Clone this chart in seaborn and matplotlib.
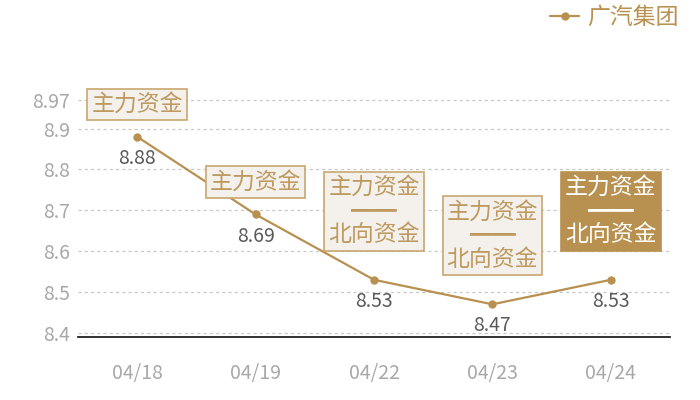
import matplotlib
matplotlib.use("Agg")
import matplotlib.pyplot as plt
import seaborn as sns
import pandas as pd

dates = ["04/18", "04/19", "04/22", "04/23", "04/24"]
values = [8.88, 8.69, 8.53, 8.47, 8.53]
tags = ["主力资金", "主力资金", "主力资金\n━━\n北向资金", "主力资金\n━━\n北向资金", "主力资金\n━━\n北向资金"]
highlight = [False, False, False, False, True]
yticks = [8.4, 8.5, 8.6, 8.7, 8.8, 8.9, 8.97]
series_name = "广汽集团"

GOLD = "#B8904F"
BOX_EC = "#C9A76F"
BOX_FC = "#F4F1EC"
TXT = "#BE9A60"

sns.set_theme(style="white")
plt.rcParams["font.family"] = ["Noto Sans CJK SC", "DejaVu Sans"]

df = pd.DataFrame({"date": dates, "value": values})

fig = plt.figure(figsize=(7, 4), dpi=100)
ax = fig.add_axes([78/700, 63/400, 592/700, 237/400])

sns.lineplot(data=df, x="date", y="value", sort=False, ax=ax, color=GOLD,
             linewidth=1.6, marker="o", markersize=6, markeredgewidth=0,
             label=series_name, legend=False)

ax.set_xlim(-0.5, len(dates) - 0.5)
ax.set_ylim(8.39, 8.97)
ax.set_yticks(yticks)
ax.set_yticklabels([f"{v:g}" for v in yticks])
ax.set_xlabel("")
ax.set_ylabel("")
ax.grid(axis="y", color="#C8C8C8", linestyle=(0, (2.5, 2.5)), linewidth=0.9)
ax.grid(axis="x", visible=False)
for s in ["top", "right", "left"]:
    ax.spines[s].set_visible(False)
ax.spines["bottom"].set_color("#222222")
ax.spines["bottom"].set_linewidth(1.3)
ax.tick_params(axis="both", length=0, colors="#A8A8A8", labelsize=14)
ax.tick_params(axis="x", pad=19)
ax.tick_params(axis="y", pad=6)
for g in ax.get_ygridlines():
    g.set_clip_on(False)

for i, (d, v) in enumerate(zip(dates, values)):
    ax.annotate(f"{v:.2f}", xy=(i, v), xytext=(0, -8), textcoords="offset points",
                ha="center", va="top", fontsize=14, color="#5A5A5A")
    nlines = tags[i].count("\n") + 1
    off = 15 if nlines == 1 else 24
    hl = highlight[i]
    ax.annotate(tags[i], xy=(i, v), xytext=(0, off), textcoords="offset points",
                ha="center", va="bottom", fontsize=16.5, linespacing=1.04,
                multialignment="center",
                color="white" if hl else TXT,
                bbox=dict(boxstyle="square,pad=0.18",
                          fc=GOLD if hl else BOX_FC,
                          ec=GOLD if hl else BOX_EC, lw=1.2),
                annotation_clip=False)

handles, labels = ax.get_legend_handles_labels()
fig.legend(handles, labels, loc="center right", bbox_to_anchor=(0.983, 0.956),
           frameon=False, fontsize=16.5, labelcolor=GOLD, handlelength=1.3,
           handletextpad=0.35, borderaxespad=0)

fig.savefig("out.png", dpi=100)
